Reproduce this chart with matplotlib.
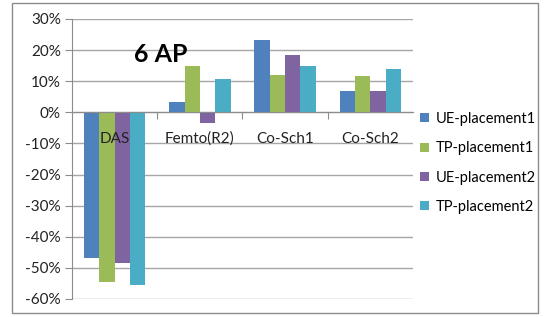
import numpy as np
import matplotlib
matplotlib.use("Agg")
import matplotlib.pyplot as plt
from matplotlib.patches import Rectangle
from matplotlib.ticker import FuncFormatter

categories = ["DAS", "Femto(R2)", "Co-Sch1", "Co-Sch2"]
series_names = ["UE-placement1", "TP-placement1", "UE-placement2", "TP-placement2"]
ue_placement1 = [-46.7, 3.3, 23.2, 6.7]
tp_placement1 = [-54.6, 14.9, 12.0, 11.6]
ue_placement2 = [-48.5, -3.5, 18.4, 6.7]
tp_placement2 = [-55.6, 10.6, 14.9, 13.9]
colors = ["#4F81BD", "#9BBB59", "#8064A2", "#4BACC6"]

plt.rcParams['font.family'] = ['Lato', 'DejaVu Sans']

fig = plt.figure(figsize=(5.48, 3.17), dpi=100)
ax = fig.add_axes([0.1314, 0.0568, 0.6222, 0.8833])

# chart frame
fig.patches.append(Rectangle((12/548, 1-313/317), 526/548, 310/317, transform=fig.transFigure,
                             fill=False, edgecolor="#8c8c8c", linewidth=1.0))

x = np.arange(len(categories))
w = 0.18
data = [ue_placement1, tp_placement1, ue_placement2, tp_placement2]
for i, (vals, c, name) in enumerate(zip(data, colors, series_names)):
    ax.bar(x + (i - 1.5) * w, vals, w, color=c, label=name, zorder=3)

ax.set_xlim(-0.5, 3.5)
ax.set_ylim(-60, 30)
ax.set_yticks(np.arange(-60, 31, 10))
ax.yaxis.set_major_formatter(FuncFormatter(lambda v, p: "%d%%" % v))
ax.yaxis.grid(True, color="#a6a6a6", linewidth=1.0, zorder=0)

ax.spines['top'].set_visible(False)
ax.spines['right'].set_visible(False)
ax.spines['left'].set_color("#8c8c8c")
ax.spines['bottom'].set_position(('data', 0))
ax.spines['bottom'].set_color("#8c8c8c")
ax.spines['bottom'].set_zorder(4)

ax.set_xticks([0.5, 1.5, 2.5])
ax.set_xticklabels([])
ax.tick_params(axis='x', direction='out', length=5, color="#8c8c8c")
ax.tick_params(axis='y', direction='out', length=5, color="#8c8c8c", labelsize=11, labelcolor="#222222", pad=3)

for xi, cat in zip(x, categories):
    ax.annotate(cat, xy=(xi, 0), xytext=(0, -19), textcoords='offset points',
                ha='center', va='center', fontsize=11, color="#222222", zorder=5)

ax.text(0.54, 16.2, "6 AP", fontsize=18, fontweight='bold', ha='center', va='baseline')

leg = fig.legend(loc='upper left', bbox_to_anchor=(420/548, 1-112/317), frameon=False,
                 fontsize=10.5, handlelength=0.6, handleheight=0.6, handletextpad=0.5,
                 labelspacing=1.05, borderpad=0, borderaxespad=0)

fig.savefig("out.png", dpi=100)
